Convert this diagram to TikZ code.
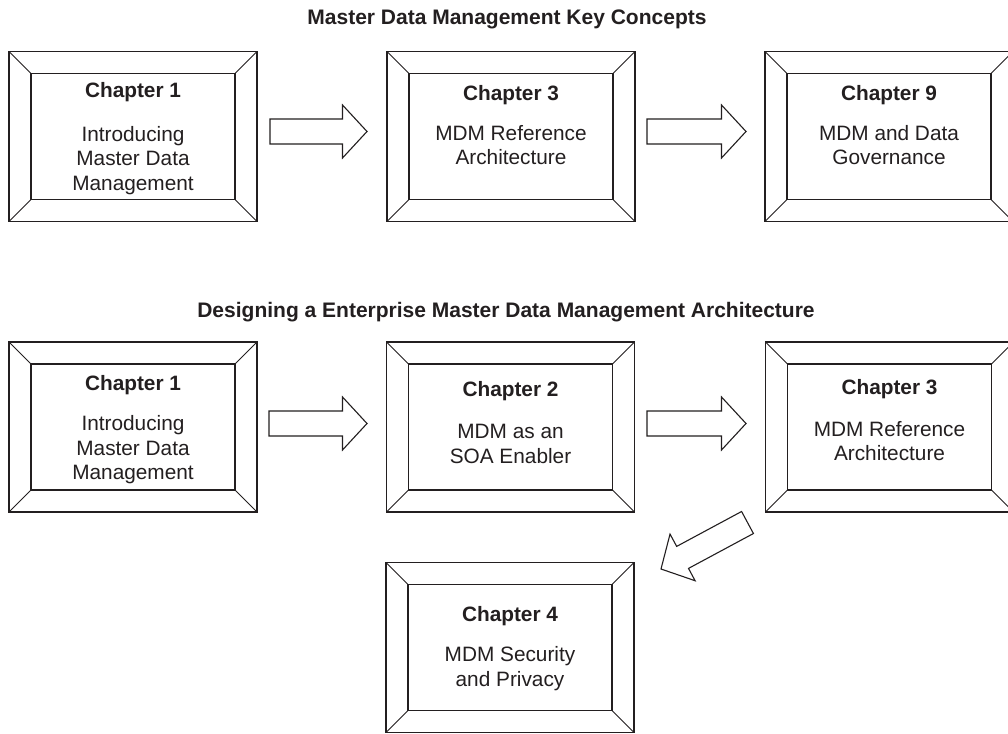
\documentclass[tikz,border=0pt]{standalone}
\usepackage{fontspec}
\setmainfont{Liberation Sans}
\usetikzlibrary{calc}
\definecolor{ink}{HTML}{231F20}

\tikzset{
  frame/.style={draw=ink, line width=1.6pt, minimum width=248pt, minimum height=170pt,
                inner sep=0pt, outer sep=0pt},
  innerframe/.style={draw=ink, line width=1.4pt},
  bevel/.style={draw=ink, line width=0.9pt},
  chap/.style={anchor=base, text=ink, inner sep=0pt,
               font=\fontsize{20.8}{25}\selectfont\bfseries},
  body/.style={anchor=base, text=ink, inner sep=0pt,
               font=\fontsize{20.8}{25}\selectfont},
  heading/.style={anchor=base, text=ink, inner sep=0pt,
                  font=\fontsize{21}{25}\selectfont\bfseries},
  blockarrow/.style={draw=ink, line width=1.1pt, fill=white, line join=miter},
}

% bevelled chapter frame: outer box, inner panel and four corner mitres
\newcommand\chapframe[2]{%
  \node[frame] (#1) at (#2) {};
  \draw[innerframe] ($(#1.north west)+(22,22)$) rectangle ($(#1.south east)+(-22,-22)$);
  \draw[bevel] (#1.north west) -- ++(22,22)
               (#1.north east) -- ++(-22,22)
               (#1.south east) -- ++(-22,-22)
               (#1.south west) -- ++(22,-22);
}

% hollow block arrow from tail coordinate #2 to tip coordinate #3
\newcommand\blockarrow[3]{%
  \coordinate (#1-s) at ($(#3)!24.5pt!(#2)$);
  \draw[blockarrow]
    ($(#2)!12.5pt!90:(#3)$) -- ($(#1-s)!12.5pt!90:(#3)$) --
    ($(#1-s)!26.5pt!90:(#3)$) -- (#3) --
    ($(#1-s)!26.5pt!-90:(#3)$) -- ($(#1-s)!12.5pt!-90:(#3)$) --
    ($(#2)!12.5pt!-90:(#3)$) -- cycle;
}

\begin{document}
\begin{tikzpicture}[x=1pt, y=-1pt]
  \useasboundingbox (0,0) rectangle (1008,733);
  \fill[white] (0,0) rectangle (1008,733);
  \clip (0,0) rectangle (1008,733);

  % ---- key concepts row ----
  \node[heading] (h1) at (507,25) {Master Data Management Key Concepts};

  \chapframe{r1a}{133,136.5}
  \node[chap] (r1a-t) at (133,98) {Chapter 1};
  \node[body] (r1a-1) at (133,141) {Introducing};
  \node[body] (r1a-2) at (133,165.5) {Master Data};
  \node[body] (r1a-3) at (133,190) {Management};

  \chapframe{r1b}{511,136.5}
  \node[chap] (r1b-t) at (511,101) {Chapter 3};
  \node[body] (r1b-1) at (511,140) {MDM Reference};
  \node[body] (r1b-2) at (511,164) {Architecture};

  \chapframe{r1c}{889,136.5}
  \node[chap] (r1c-t) at (889,101) {Chapter 9};
  \node[body] (r1c-1) at (889,140) {MDM and Data};
  \node[body] (r1c-2) at (889,164) {Governance};

  \coordinate (a1t) at (270,131.5);  \coordinate (a1h) at (367,131.5);
  \coordinate (a2t) at (647,131.5);  \coordinate (a2h) at (746,131.5);
  \blockarrow{a1}{a1t}{a1h}
  \blockarrow{a2}{a2t}{a2h}

  % ---- architecture row ----
  \node[heading] (h2) at (506,317.3) {Designing a Enterprise Master Data Management Architecture};

  \chapframe{r2a}{133,427}
  \node[chap] (r2a-t) at (133,390) {Chapter 1};
  \node[body] (r2a-1) at (133,430.5) {Introducing};
  \node[body] (r2a-2) at (133,455) {Master Data};
  \node[body] (r2a-3) at (133,479.5) {Management};

  \chapframe{r2b}{510.5,427}
  \node[chap] (r2b-t) at (510.5,396.7) {Chapter 2};
  \node[body] (r2b-1) at (510.5,438.3) {MDM as an};
  \node[body] (r2b-2) at (510.5,463) {SOA Enabler};

  \chapframe{r2c}{889.5,427}
  \node[chap] (r2c-t) at (889.5,394.3) {Chapter 3};
  \node[body] (r2c-1) at (889.5,436) {MDM Reference};
  \node[body] (r2c-2) at (889.5,460) {Architecture};

  \chapframe{r3}{510,647.5}
  \node[chap] (r3-t) at (510,621.7) {Chapter 4};
  \node[body] (r3-1) at (510,661.7) {MDM Security};
  \node[body] (r3-2) at (510,686.7) {and Privacy};

  \coordinate (b1t) at (269,423.5);   \coordinate (b1h) at (367,423.5);
  \coordinate (b2t) at (647,423.5);   \coordinate (b2h) at (746,423.5);
  \coordinate (b3t) at (747.5,522.5); \coordinate (b3h) at (661,569);
  \blockarrow{b1}{b1t}{b1h}
  \blockarrow{b2}{b2t}{b2h}
  \blockarrow{b3}{b3t}{b3h}
\end{tikzpicture}
\end{document}
